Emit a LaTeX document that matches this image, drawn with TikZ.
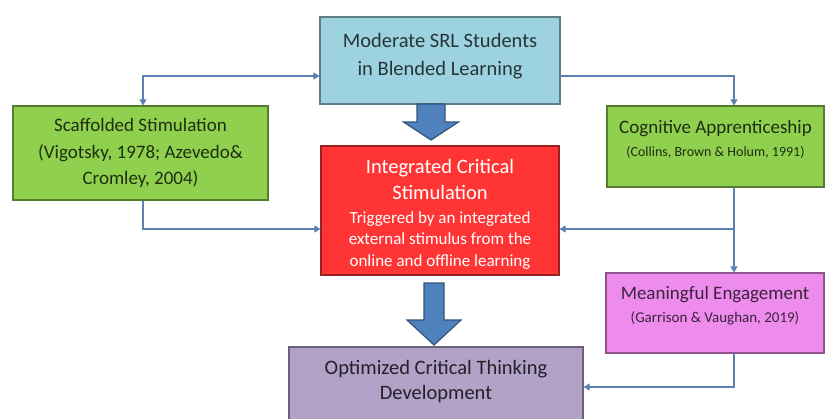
\documentclass[tikz,border=0pt]{standalone}
\usepackage{fontspec}
\setmainfont{Carlito}
\usetikzlibrary{arrows.meta}

\definecolor{srlblue}{HTML}{9DD3E0}
\definecolor{scafgreen}{HTML}{8FD14F}
\definecolor{stimred}{HTML}{FF3535}
\definecolor{engpink}{HTML}{EE8CEE}
\definecolor{optpurple}{HTML}{B3A2C8}
\definecolor{linkblue}{HTML}{5B80B2}
\definecolor{arrowblue}{HTML}{4F81BD}

% extra depth on the last line pushes the text block up in its box
\newcommand{\liftby}[1]{\rule[-#1]{0pt}{0pt}}
\newcommand{\stimsmall}{\fontsize{17}{21.5}\selectfont}

\begin{document}
\begin{tikzpicture}[x=1pt,y=-1pt,>={Triangle[width=7pt,length=6pt]},
	box/.style={draw=#1!60!black, fill=#1, line width=1.2pt, inner sep=0pt, align=center},
	link/.style={draw=linkblue, line width=1.1pt, ->},
	bigarrow/.style={fill=arrowblue, draw=arrowblue!65!black, line width=1.2pt, line join=miter}]
	
	\useasboundingbox (0,0) rectangle (826,418);
	
	% boxes, centred at pixel positions
	\node[box=srlblue, minimum width=240pt, minimum height=87pt, text=srlblue!25!black,
		font=\fontsize{20.5}{28}\selectfont] (top) at (440,60.5)
		{Moderate SRL Students\\in Blended Learning\liftby{12pt}};
	
	\node[box=scafgreen, minimum width=255pt, minimum height=94pt, text=scafgreen!22!black,
		font=\fontsize{19}{26.5}\selectfont] (sc) at (140.5,153)
		{Scaffolded Stimulation\\(Vigotsky, 1978; Azevedo\&\\Cromley, 2004)};
	
	\node[box=stimred, minimum width=238pt, minimum height=129pt, text=white,
		font=\fontsize{20.5}{21.5}\selectfont] (icr) at (440,210.5)
		{\rule{0pt}{21pt}Integrated Critical\\[4.5pt]Stimulation\\[2.5pt]\stimsmall Triggered by an integrated\\
		\stimsmall external stimulus from the\\\stimsmall online and offline learning};
	
	\node[box=scafgreen, minimum width=217pt, minimum height=81pt, text=scafgreen!22!black,
		font=\fontsize{19}{23}\selectfont] (cog) at (715.5,146.5)
		{Cognitive Apprenticeship\\\fontsize{14}{17}\selectfont (Collins, Brown \& Holum, 1991)\liftby{16pt}};
	
	\node[box=engpink, minimum width=218pt, minimum height=80pt, text=engpink!25!black,
		font=\fontsize{19}{23}\selectfont] (me) at (715,313)
		{Meaningful Engagement\\\fontsize{15}{18}\selectfont (Garrison \& Vaughan, 2019)\liftby{17pt}};
	
	\node[box=optpurple, minimum width=294pt, minimum height=80pt, text=optpurple!20!black,
		font=\fontsize{20.5}{25}\selectfont] (oct) at (436,387)
		{Optimized Critical Thinking\\Development\liftby{14pt}};
	
	% block arrows down the middle
	\draw[bigarrow] (417,104) -- (445,104) -- (445,122) -- (458.5,122) -- (431,140)
		-- (403.5,122) -- (417,122) -- cycle;
	\draw[bigarrow] (424,283) -- (444,283) -- (444,320) -- (461,320) -- (434,345)
		-- (407,320) -- (424,320) -- cycle;
	
	% thin connectors
	\coordinate (cj) at ([xshift=18.5pt]cog.south);
	\coordinate (redL) at ([yshift=-18.5pt]icr.west);
	\coordinate (redR) at ([yshift=-18.5pt]icr.east);
	
	\draw[link,<->] ([xshift=2.5pt]sc.north) |- ([yshift=-15.5pt]top.west);
	\draw[link] ([yshift=-15.5pt]top.east) -| (cj |- cog.north);
	\draw[link] ([xshift=2.5pt]sc.south) |- (redL);
	\draw[link] (cj) -- (cj |- me.north);
	\draw[link] (cj |- redR) -- (redR);
	\draw[link] (cj |- me.south) |- (oct.east);
	
\end{tikzpicture}
\end{document}
